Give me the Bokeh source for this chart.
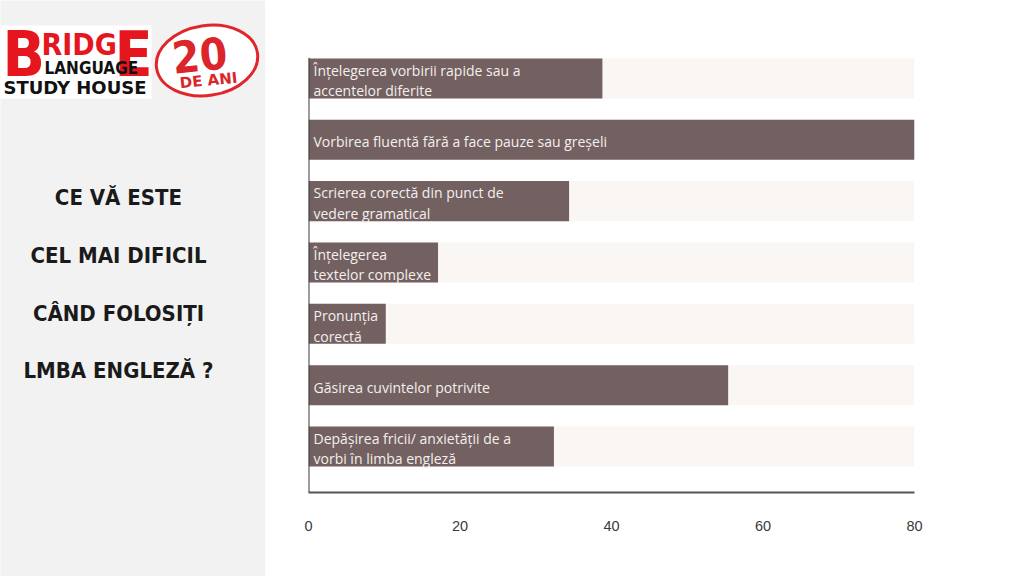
from bokeh.plotting import figure
from bokeh.layouts import row
from bokeh.models import Range1d, ColumnDataSource, Span, FixedTicker
from bokeh.core.properties import value
from bokeh.embed import file_html
from bokeh.resources import INLINE

# ---- data ----
categories = [
    "Înțelegerea vorbirii rapide sau a\naccentelor diferite",
    "Vorbirea fluentă fără a face pauze sau greșeli",
    "Scrierea corectă din punct de\nvedere gramatical",
    "Înțelegerea\ntextelor complexe",
    "Pronunția\ncorectă",
    "Găsirea cuvintelor potrivite",
    "Depășirea fricii/ anxietății de a\nvorbi în limba engleză",
]
values = [38.8, 80, 34.4, 17.1, 10.2, 55.4, 32.4]
x_max = 80
x_ticks = [0, 20, 40, 60, 80]
title_lines = ["CE VĂ ESTE", "CEL MAI DIFICIL", "CÂND FOLOSIȚI", "LMBA ENGLEZĂ ?"]

W, H = 1024, 576
LEFT_W = 265

# ---- left panel (pixel coordinates) ----
left = figure(width=LEFT_W, height=H, output_backend="svg", toolbar_location=None,
              x_range=Range1d(0, LEFT_W), y_range=Range1d(H, 0),
              min_border=0)
left.frame_align = False
left.axis.visible = False
left.grid.visible = False
left.outline_line_color = None
left.background_fill_color = "#f2f2f2"
left.border_fill_color = "#f2f2f2"

RED = "#e5161d"
COND = value("DejaVu Sans Condensed")
# logo box
left.quad(left=[0], right=[151], top=[25], bottom=[98], fill_color="white", line_color=None)
left.text(x=[2], y=[54], text=["B"], text_font=COND,
          text_font_style="bold", text_font_size="62px", text_color=RED,
          text_baseline="middle", text_align="left")
left.text(x=[41], y=[44], text=["RIDG"], text_font=COND,
          text_font_style="bold", text_font_size="30px", text_color=RED,
          text_baseline="middle", text_align="left")
left.text(x=[152], y=[54], text=["E"], text_font=COND,
          text_font_style="bold", text_font_size="62px", text_color=RED,
          text_baseline="middle", text_align="right")
left.text(x=[44], y=[67], text=["LANGUAGE"], text_font=COND,
          text_font_style="bold", text_font_size="17px", text_color="#111111",
          text_baseline="middle", text_align="left")
left.text(x=[3], y=[87], text=["STUDY HOUSE"], text_font=value("DejaVu Sans"),
          text_font_style="bold", text_font_size="18px", text_color="#111111",
          text_baseline="middle", text_align="left")
# 20 de ani badge
left.ellipse(x=[206.5], y=[60], width=[102], height=[70], angle=0.15,
             fill_color="white", line_color="#e0262b", line_width=3)
left.text(x=[199], y=[54], text=["20"], text_font=COND,
          text_font_style="bold", text_font_size="44px", text_color="#d9252b",
          text_baseline="middle", text_align="center", angle=0.1)
left.text(x=[208], y=[80], text=["DE ANI"], text_font=value("DejaVu Sans"),
          text_font_style="bold", text_font_size="15px", text_color="#d9252b",
          text_baseline="middle", text_align="center", angle=0.1)

# title
ty = [197, 255, 313, 370]
left.text(x=[118] * len(title_lines), y=ty, text=title_lines,
          text_font=COND, text_font_style="bold",
          text_font_size="22px", text_color="#1a1a1a",
          text_baseline="middle", text_align="center")

# ---- chart ----
n = len(categories)
ypos = list(range(n))
src = ColumnDataSource(dict(y=ypos, v=values, full=[x_max] * n, label=categories))

p = figure(width=W - LEFT_W, height=H, output_backend="svg", toolbar_location=None,
           x_range=Range1d(0, x_max), y_range=Range1d(n - 1 + 0.75, -0.342),
           min_border_left=43, min_border_right=110, min_border_top=57,
           min_border_bottom=84)
p.frame_align = False
p.outline_line_color = None
p.grid.visible = False
p.yaxis.visible = False
p.background_fill_color = "white"
p.border_fill_color = "white"

p.hbar(y="y", left=0, right="full", height=0.653, source=src,
       fill_color="#faf6f3", line_color=None)
p.hbar(y="y", left=0, right="v", height=0.653, source=src,
       fill_color="#726160", line_color=None)
p.text(x=0, y="y", text="label", source=src, x_offset=5, y_offset=2,
       text_font=value("Open Sans"), text_font_size="14px", text_color="#f4efee",
       text_baseline="middle", text_align="left", text_line_height=1.1)

p.add_layout(Span(location=0, dimension="height", line_color="#3d3d3d", line_width=2))

ax = p.xaxis[0]
ax.ticker = FixedTicker(ticks=x_ticks)
ax.major_tick_line_color = None
ax.minor_tick_line_color = None
ax.major_tick_out = 0
ax.major_tick_in = 0
ax.axis_line_color = "#555555"
ax.axis_line_width = 2
ax.major_label_standoff = 28
ax.major_label_text_font = "Liberation Sans"
ax.major_label_text_font_size = "14.5px"
ax.major_label_text_color = "#3a3a3a"

layout = row(left, p, spacing=0)
open("out.html", "w").write(file_html(layout, INLINE))
